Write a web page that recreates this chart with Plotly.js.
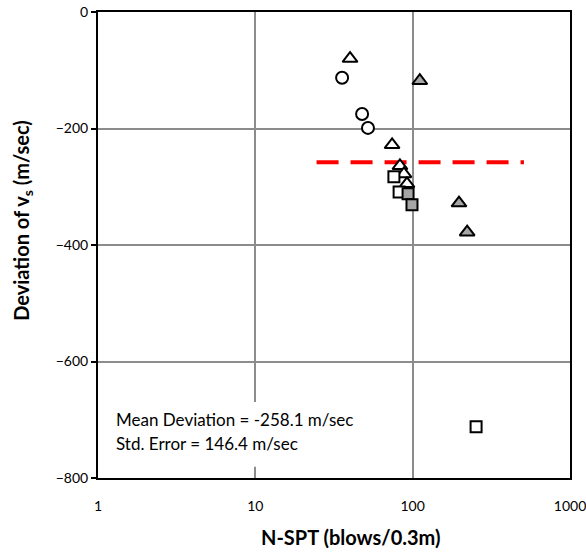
<!DOCTYPE html>
<html>
<head>
<meta charset="utf-8">
<script src="https://cdn.plot.ly/plotly-3.0.1.min.js"></script>
<style>
  html, body { margin: 0; padding: 0; background: #fff; }
  #chart { width: 586px; height: 553px; }
</style>
</head>
<body>
<div id="chart"></div>
<script>
// N-SPT blow counts and corresponding deviation of shear-wave velocity
const triOpenN   = [40, 74, 83, 88, 92];
const triOpenDev = [-80, -228, -264, -278, -295];

const triGreyN   = [111, 197, 222];
const triGreyDev = [-118, -328, -378];

const circN   = [35.6, 47.7, 52];
const circDev = [-113, -175, -199];

const sqOpenN   = [76, 82, 253];
const sqOpenDev = [-283, -309, -712];

const sqGreyN   = [93.5, 99];
const sqGreyDev = [-312, -331];

// Mean deviation line
const meanN   = [24.5, 510];
const meanDev = [-258.1, -258.1];

const xTickVals = [1, 10, 100, 1000];
const xTickText = ['1', '10', '100', '1000'];
const yTickVals = [0, -200, -400, -600, -800];

const xTitle = '<b>N-SPT (blows/0.3m)</b>';
const yTitle = '<b>Deviation of v<sub>s</sub> (m/sec)</b>';
const statLines = ['Mean Deviation = -258.1 m/sec', 'Std. Error = 146.4 m/sec'];

const font = 'Lato, "Open Sans", "Liberation Sans", sans-serif';
const edge = { color: '#000', width: 2 };

function markers(x, y, symbol, fill, size) {
  return {
    x: x, y: y, type: 'scatter', mode: 'markers', showlegend: false,
    marker: { symbol: symbol, size: size, color: fill, line: edge }
  };
}

const data = [
  {
    x: meanN, y: meanDev, type: 'scatter', mode: 'lines', showlegend: false,
    line: { color: '#ff0000', width: 4, dash: '22px,12px' }
  },
  markers(circN, circDev, 'circle', '#ffffff', 12),
  markers(triOpenN, triOpenDev, 'triangle-up', '#ffffff', 13),
  markers(triGreyN, triGreyDev, 'triangle-up', '#a6a6a6', 13),
  markers(sqOpenN, sqOpenDev, 'square', '#ffffff', 11),
  markers(sqGreyN, sqGreyDev, 'square', '#a6a6a6', 11)
];

const layout = {
  width: 586, height: 553,
  margin: { l: 98, r: 16, t: 12, b: 75 },
  paper_bgcolor: '#fff', plot_bgcolor: '#fff',
  font: { family: font, size: 14, color: '#000' },
  xaxis: {
    type: 'log', range: [0, 3],
    tickvals: xTickVals, ticktext: xTickText,
    showgrid: true, gridcolor: '#8c8c8c', gridwidth: 2,
    showline: true, linecolor: '#000', linewidth: 2, mirror: true,
    ticks: '', ticklabelstandoff: 14, ticklabeloverflow: 'allow',
    zeroline: false,
    tickfont: { family: font, size: 14, color: '#000' }
  },
  yaxis: {
    range: [-800, 0],
    tickvals: yTickVals,
    showgrid: true, gridcolor: '#8c8c8c', gridwidth: 2,
    showline: true, linecolor: '#000', linewidth: 2, mirror: true,
    ticks: 'outside', ticklen: 5, tickwidth: 2, tickcolor: '#000',
    zeroline: false,
    tickfont: { family: font, size: 14, color: '#000' }
  },
  // white text box behind the summary statistics (hides the gridline)
  shapes: [
    {
      type: 'rect', xref: 'paper', yref: 'paper', layer: 'above',
      x0: 0.015, x1: 0.559, y0: 0.024, y1: 0.163,
      fillcolor: '#ffffff', line: { width: 0 }
    }
  ],
  annotations: [
    // axis titles
    {
      xref: 'paper', yref: 'paper', x: 0.536, y: -0.127, xanchor: 'center', yanchor: 'middle',
      text: xTitle, showarrow: false,
      font: { family: font, size: 20, color: '#000' }
    },
    {
      xref: 'paper', yref: 'paper', x: -0.159, y: 0.554, xanchor: 'center', yanchor: 'middle',
      text: yTitle, textangle: -90, showarrow: false,
      font: { family: font, size: 20, color: '#000' }
    },
    // summary statistics
    {
      xref: 'paper', yref: 'paper', x: 0.034, y: 0.1245, xanchor: 'left', yanchor: 'middle',
      text: statLines[0], showarrow: false,
      font: { family: font, size: 17, color: '#000' }
    },
    {
      xref: 'paper', yref: 'paper', x: 0.034, y: 0.073, xanchor: 'left', yanchor: 'middle',
      text: statLines[1], showarrow: false,
      font: { family: font, size: 17, color: '#000' }
    }
  ]
};

Plotly.newPlot('chart', data, layout, { displayModeBar: false, staticPlot: true });
</script>
</body>
</html>
